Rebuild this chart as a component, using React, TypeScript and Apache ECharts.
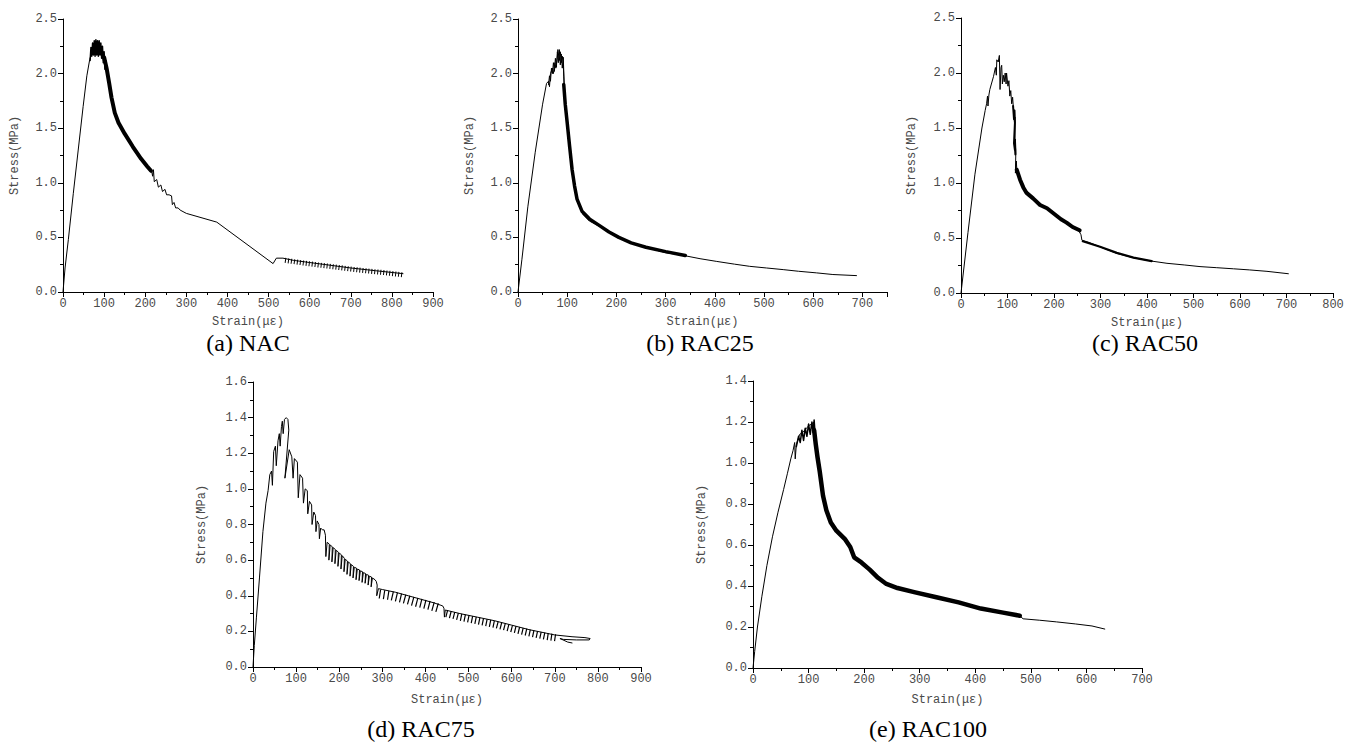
import React, { useEffect, useRef } from "react";
import * as echarts from "echarts";

// ---------- DATA (strain in με, stress in MPa) ----------
const captions = ["(a) NAC", "(b) RAC25", "(c) RAC50", "(d) RAC75", "(e) RAC100"];
const xMaxes = [900, 750, 800, 900, 700];
const yMaxes = [2.5, 2.5, 2.5, 1.6, 1.4];
const yIntervals = [0.5, 0.5, 0.5, 0.2, 0.2];

const nacMain = [[0,0],[5,0.22],[13,0.48],[25,0.9],[37,1.3],[49,1.7],[58,1.98],[65,2.13],[72,2.22],[82,2.26],[92,2.24],[100,2.17],[106,2.07],[112,1.93],[118,1.76],[125,1.65],[134,1.55],[150,1.45],[171,1.33],[190,1.22],[203,1.15],[215,1.12],[218,1.06],[220,1.12],[222,1.01],[228,1.03],[232,0.96],[238,0.98],[242,0.92],[248,0.94],[252,0.89],[258,0.89],[264,0.88],[266,0.8],[270,0.82],[274,0.77],[280,0.77],[285,0.75],[300,0.72],[374,0.64],[511,0.26],[519,0.31],[535,0.31],[560,0.29],[600,0.27],[650,0.245],[700,0.22],[760,0.195],[827,0.168]];
const nacPeak = [[66,2.12],[68,2.24],[70,2.16],[72,2.28],[74,2.17],[76,2.3],[78,2.16],[80,2.31],[82,2.17],[84,2.3],[86,2.16],[88,2.3],[90,2.17],[92,2.28],[94,2.14],[96,2.25],[98,2.1],[100,2.2],[102,2.04],[104,2.12]];
const nacBand = [[100,2.15],[106,2.05],[112,1.92],[118,1.78],[126,1.64],[135,1.55],[150,1.45],[170,1.33],[190,1.22],[205,1.15],[214,1.11]];
const nacHatch = [[540,0.29],[580,0.268],[620,0.248],[660,0.23],[700,0.21],[740,0.193],[780,0.178],[825,0.158]];

const rac25Main = [[0,0],[8,0.3],[20,0.78],[35,1.28],[50,1.72],[58,1.91],[62,1.93],[64,1.88],[66,2.0],[70,2.05],[72,2.0],[75,2.1],[77,2.05],[80,2.15],[81,2.22],[84,2.12],[86,2.2],[88,2.1],[90,2.16],[92,2.1],[93,1.97],[95,1.76],[98,1.65],[102,1.46],[106,1.3],[108.5,1.2],[110.5,1.1],[115,0.97],[119,0.86],[125,0.78],[132,0.71],[145,0.65],[166,0.6],[185,0.55],[200,0.51],[230,0.45],[268,0.4],[300,0.36],[336,0.335],[370,0.305],[404,0.28],[440,0.255],[471,0.235],[505,0.22],[539,0.205],[570,0.19],[607,0.175],[640,0.16],[688,0.15]];
const rac25Peak = [[62,1.9],[64,1.98],[66,1.93],[68,2.05],[70,2.0],[72,2.1],[74,2.02],[76,2.14],[78,2.06],[80,2.2],[82,2.1],[84,2.22],[86,2.08],[88,2.18],[90,2.05],[92,2.15],[94,1.9]];
const rac25Band = [[93,1.9],[96,1.72],[100,1.55],[105,1.33],[110,1.12],[115,0.97],[120,0.85],[130,0.74],[145,0.67],[165,0.61],[185,0.55],[205,0.5],[230,0.45],[260,0.41],[300,0.37],[340,0.335]];

const rac50Main = [[0,0],[15,0.55],[30,1.08],[45,1.5],[52,1.66],[55,1.72],[57,1.79],[58,1.7],[60,1.8],[62,1.85],[70,1.97],[74,2.05],[76,1.98],[77,2.12],[80,2.1],[82.5,2.16],[84,1.85],[86,2.05],[87.5,2.07],[89,1.9],[91,1.98],[93,1.92],[95,2.0],[97,1.9],[98,2.0],[101,1.88],[103,1.93],[105,1.79],[107,1.84],[109,1.72],[111,1.78],[113,1.66],[114,1.62],[115,1.55],[116,1.6],[116,1.33],[117,1.4],[118,1.3],[117,1.09],[119,1.2],[120,1.12],[123,1.07],[127,1.03],[134,0.96],[141,0.91],[155,0.86],[170,0.8],[185,0.77],[192,0.76],[210,0.69],[227,0.64],[240,0.6],[252,0.575],[258,0.53],[260,0.48],[275,0.46],[299,0.42],[335,0.36],[371,0.32],[410,0.29],[443,0.27],[480,0.255],[514,0.24],[550,0.23],[586,0.22],[620,0.21],[658,0.197],[704,0.175]];
const rac50Blob = [[112,1.7],[114,1.58],[115,1.66],[116,1.55],[114,1.36],[116,1.3],[115,1.4],[117,1.26]];
const rac50Band = [[120,1.12],[127,1.03],[134,0.96],[141,0.91],[155,0.86],[170,0.8],[185,0.77],[200,0.72],[215,0.67],[227,0.64],[240,0.6],[255,0.57]];
const rac50Tail = [[262,0.47],[299,0.42],[335,0.365],[371,0.322],[410,0.29]];

const rac75Main = [[0,0],[3,0.12],[8,0.28],[15,0.5],[23,0.76],[30,0.92],[35,0.99],[39,1.08],[43,1.1],[45,1.02],[48,1.21],[52,1.24],[54,1.13],[58,1.27],[61,1.31],[63,1.24],[66,1.35],[68,1.38],[70,1.31],[73,1.39],[77,1.4],[81,1.39],[83,1.33],[74,1.06],[84,1.22],[90,1.18],[93,1.06],[96,1.17],[103,1.15],[105,0.95],[109,1.08],[115,1.06],[117,0.92],[121,1.0],[126,0.99],[127,0.86],[131,0.93],[136,0.91],[137,0.8],[141,0.87],[145,0.85],[146,0.76],[149,0.82],[153,0.8],[154,0.72],[157,0.78],[161,0.77],[165,0.77],[168,0.74],[169,0.62],[172,0.7],[177,0.69],[176,0.6],[179,0.685],[184,0.675],[183,0.59],[186,0.67],[191,0.66],[190,0.58],[193,0.655],[198,0.645],[197,0.565],[200,0.64],[205,0.63],[204,0.55],[207,0.625],[212,0.61],[211,0.535],[214,0.605],[219,0.595],[218,0.52],[221,0.59],[226,0.58],[225,0.51],[228,0.575],[233,0.565],[232,0.5],[235,0.56],[240,0.555],[239,0.49],[242,0.55],[247,0.545],[246,0.485],[249,0.54],[254,0.535],[253,0.475],[256,0.53],[261,0.525],[260,0.47],[263,0.52],[268,0.515],[267,0.46],[270,0.51],[275,0.505],[274,0.45],[277,0.5],[283,0.49],[286,0.48],[288,0.46],[287,0.4],[291,0.44],[300,0.435],[330,0.42],[360,0.4],[390,0.38],[420,0.36],[434,0.348],[440,0.343],[443,0.33],[444,0.28],[446,0.32],[480,0.3],[520,0.28],[560,0.26],[600,0.235],[640,0.21],[680,0.19],[700,0.18],[740,0.17],[770,0.165],[782,0.16],[780,0.152],[750,0.152],[720,0.155],[712,0.16],[730,0.14],[740,0.135]];
const rac75Hatch1 = [[293,0.41],[320,0.4],[350,0.383],[380,0.363],[410,0.345],[432,0.33]];
const rac75Hatch2 = [[448,0.3],[480,0.28],[520,0.26],[560,0.24],[600,0.215],[640,0.192],[680,0.172],[705,0.163]];

const rac100Main = [[0,0],[3,0.08],[8,0.2],[16,0.35],[25,0.5],[35,0.64],[45,0.76],[55,0.87],[62,0.95],[68,1.02],[72,1.06],[75,1.1],[76,1.02],[78,1.09],[84,1.14],[90,1.15],[96,1.17],[102,1.185],[106,1.19],[109,1.2],[111,1.17],[114,1.06],[117,1.02],[120,0.965],[123,0.9],[126,0.835],[132,0.77],[138,0.72],[150,0.67],[160,0.645],[168,0.62],[175,0.59],[180,0.54],[190,0.52],[204,0.49],[222,0.445],[235,0.42],[246,0.4],[260,0.39],[276,0.38],[306,0.36],[336,0.34],[366,0.32],[390,0.305],[408,0.29],[430,0.275],[456,0.265],[480,0.255],[486,0.24],[516,0.233],[546,0.225],[580,0.215],[610,0.205],[633,0.19]];
const rac100Peak = [[78,1.08],[82,1.13],[85,1.1],[88,1.16],[91,1.11],[94,1.17],[97,1.13],[100,1.19],[103,1.14],[106,1.2],[108,1.15],[110,1.21],[112,1.13]];
const rac100Band = [[110,1.16],[113,1.09],[116,1.03],[120,0.96],[126,0.84],[132,0.77],[140,0.71],[150,0.67],[165,0.63],[175,0.59],[182,0.54],[195,0.515],[210,0.48],[225,0.44],[240,0.41],[260,0.39],[290,0.37],[330,0.345],[370,0.32],[410,0.29],[450,0.27],[480,0.255]];

// ---------- LAYOUT ----------
const grids = [
  { left: 63, top: 19, width: 370, height: 273 },
  { left: 518, top: 19, width: 369, height: 273 },
  { left: 961, top: 18, width: 372, height: 275 },
  { left: 253, top: 382, width: 388, height: 285 },
  { left: 753, top: 381, width: 389, height: 287 },
];
const yNameGaps = [42, 42, 43, 45, 45];
const xNameGaps = [24, 24, 24, 27, 26];
const captionPos = [[248, 343], [700, 343], [1145, 343], [421, 729], [928, 729]];

const MONO = "'Liberation Mono', 'DejaVu Sans Mono', monospace";
const LABEL_COLOR = "#4a4a4a";

function line(data: number[][], idx: number, width: number, dash?: number[]) {
  return {
    type: "line",
    xAxisIndex: idx,
    yAxisIndex: idx,
    data,
    showSymbol: false,
    symbol: "none",
    silent: true,
    lineStyle: {
      color: "#000",
      width,
      type: dash ? dash : "solid",
      cap: dash ? "butt" : "round",
      join: "round",
    },
  };
}

export default function App() {
  const ref = useRef<HTMLDivElement>(null);
  useEffect(() => {
    if (!ref.current) return;
    const chart = echarts.init(ref.current, undefined, { renderer: "svg" });
    const xAxes = grids.map((_, i) => ({
      type: "value",
      gridIndex: i,
      min: 0,
      max: xMaxes[i],
      interval: 100,
      name: "Strain(με)",
      nameLocation: "middle",
      nameGap: xNameGaps[i],
      nameTextStyle: { fontFamily: MONO, fontSize: 12, color: LABEL_COLOR },
      axisLine: { show: true, onZero: false, lineStyle: { color: "#000", width: 1 } },
      axisTick: { show: true, inside: false, length: 5, lineStyle: { color: "#000" } },
      minorTick: { show: true, splitNumber: 2, length: 3, lineStyle: { color: "#000" } },
      splitLine: { show: false },
      axisLabel: {
        fontFamily: MONO,
        fontSize: 12,
        color: LABEL_COLOR,
        margin: 6,
        showMaxLabel: xMaxes[i] % 100 === 0,
        formatter: (v: number) => (v % 100 === 0 ? String(v) : ""),
      },
    }));
    const yAxes = grids.map((_, i) => ({
      type: "value",
      gridIndex: i,
      min: 0,
      max: yMaxes[i],
      interval: yIntervals[i],
      name: "Stress(MPa)",
      nameLocation: "middle",
      nameGap: yNameGaps[i],
      nameRotate: 90,
      nameTextStyle: { fontFamily: MONO, fontSize: 12, color: LABEL_COLOR },
      axisLine: { show: true, onZero: false, lineStyle: { color: "#000", width: 1 } },
      axisTick: { show: true, inside: false, length: 5, lineStyle: { color: "#000" } },
      minorTick: { show: true, splitNumber: 2, length: 3, lineStyle: { color: "#000" } },
      splitLine: { show: false },
      axisLabel: {
        fontFamily: MONO,
        fontSize: 12,
        color: LABEL_COLOR,
        margin: 6,
        formatter: (v: number) => v.toFixed(1),
      },
    }));
    const series = [
      line(nacMain, 0, 1),
      line(nacPeak, 0, 1.5),
      line(nacBand, 0, 4),
      line(nacHatch, 0, 5, [1, 2]),
      line(rac25Main, 1, 1),
      line(rac25Peak, 1, 1),
      line(rac25Band, 1, 3.5),
      line(rac50Main, 2, 1),
      line(rac50Blob, 2, 2),
      line(rac50Band, 2, 4),
      line(rac50Tail, 2, 2.2),
      line(rac75Main, 3, 1),
      line(rac75Hatch1, 3, 9, [1.2, 3]),
      line(rac75Hatch2, 3, 7, [1.2, 2.5]),
      line(rac100Main, 4, 1),
      line(rac100Peak, 4, 1.5),
      line(rac100Band, 4, 4.5),
    ];
    const graphic = captions.map((t, i) => ({
      type: "text",
      x: captionPos[i][0],
      y: captionPos[i][1],
      style: {
        text: t,
        font: "24px 'Liberation Serif', 'Times New Roman', serif",
        fill: "#000",
        align: "center",
        verticalAlign: "middle",
      },
    }));
    chart.setOption({
      animation: false,
      backgroundColor: "#fff",
      grid: grids.map((g) => ({ ...g, containLabel: false })),
      xAxis: xAxes,
      yAxis: yAxes,
      series,
      graphic,
    });
    return () => chart.dispose();
  }, []);
  return (
    <div
      ref={ref}
      style={{ position: "fixed", left: 0, top: 0, width: 1356, height: 742, background: "#fff" }}
    />
  );
}
